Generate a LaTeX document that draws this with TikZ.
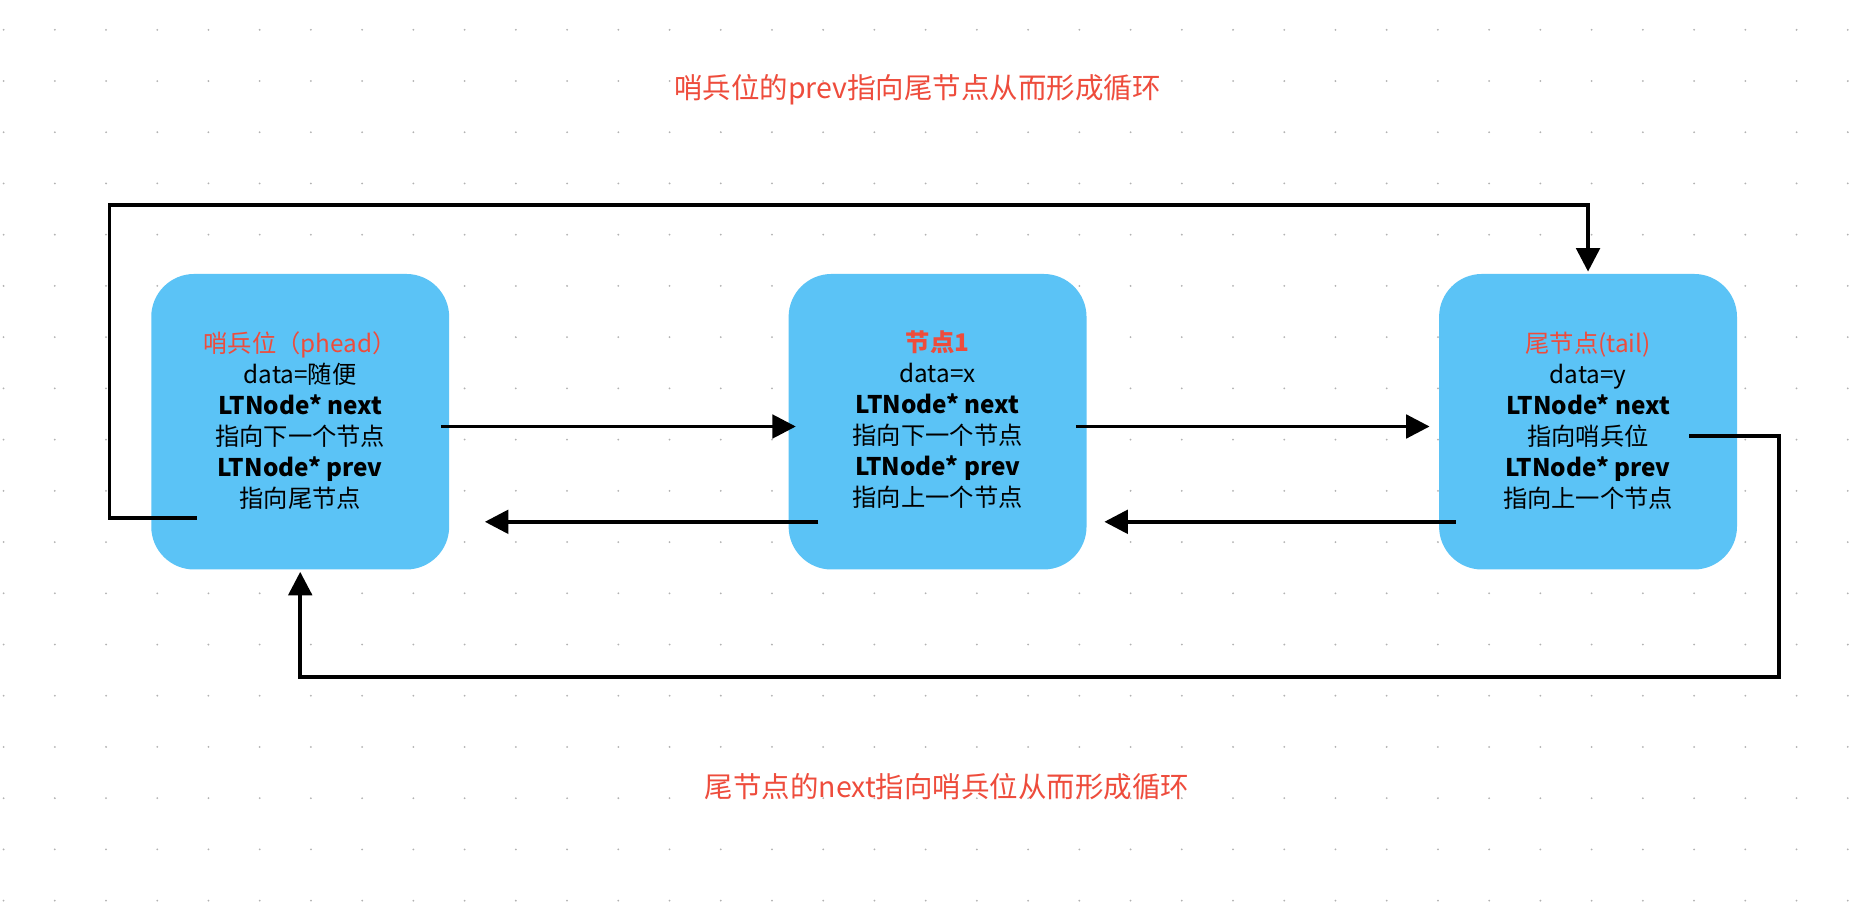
\documentclass[tikz,border=0pt]{standalone}
\usepackage{fontspec}
\setmainfont{Noto Sans CJK SC}
\usetikzlibrary{positioning,arrows.meta}
\definecolor{boxblue}{HTML}{5BC3F6}
\definecolor{labelred}{HTML}{EE4C3C}
\tikzset{
  listbox/.style={fill=boxblue, rounded corners=0.9cm, minimum width=6.25cm, minimum height=6.2cm, inner sep=0pt},
  boxtext/.style={align=center, font=\fontsize{14.5}{18.5}\selectfont},
  looptext/.style={text=labelred, font=\fontsize{17}{20}\selectfont},
  link/.style={line width=2.2pt, -{Triangle[length=14pt,width=14pt]}}
}
\begin{document}
\begin{tikzpicture}[x=0.025cm, y=-0.025cm]
    \useasboundingbox (0,0) rectangle (1568,757);
    \fill[white] (0,0) rectangle (1568,757);
    % dot grid
    \foreach \i in {0,...,36} {
        \foreach \j in {0,...,17} {
            \fill[black!30] (3+43*\i, 25+43*\j) circle (0.6pt);
        }
    }
    % boxes
    \node[listbox] (head) at (252,354) {};
    \node[listbox] (mid) at (787,354) {};
    \node[listbox] (tail) at (1333,354) {};
    \node[boxtext] (head_text) at (252,353) {{\color{labelred}哨兵位（phead）}\\data=随便\\\textbf{LTNode* next}\\指向下一个节点\\\textbf{LTNode* prev}\\指向尾节点};
    \node[boxtext, font=\fontsize{14.5}{18.5}\selectfont] (mid_text) at (787,352) {{\color{labelred}\textbf{节点1}}\\data=x\\\textbf{LTNode* next}\\指向下一个节点\\\textbf{LTNode* prev}\\指向上一个节点};
    \node[boxtext] (tail_text) at (1333,353) {{\color{labelred}尾节点(tail)}\\data=y\\\textbf{LTNode* next}\\指向哨兵位\\\textbf{LTNode* prev}\\指向上一个节点};
    % loop labels
    \node[looptext] (top_label) at (770,75) {哨兵位的prev指向尾节点从而形成循环};
    \node[looptext] (bottom_label) at (795,660) {尾节点的next指向哨兵位从而形成循环};
    % connector ends
    \coordinate (head_next) at (370,358);
    \coordinate (mid_in) at (668,358);
    \coordinate (mid_next) at (903,358);
    \coordinate (tail_in) at (1200,358);
    \coordinate (mid_prev) at (687,438);
    \coordinate (head_in) at (407,438);
    \coordinate (tail_prev) at (1222,438);
    \coordinate (mid_back) at (927,438);
    \coordinate (head_prev) at (165,435);
    \coordinate (tail_top) at (1333,228);
    \coordinate (tail_next) at (1418,366);
    \coordinate (head_bottom) at (252,480);
    % links
    \draw[link] (head_next) -- (mid_in);
    \draw[link] (mid_next) -- (tail_in);
    \draw[link] (mid_prev) -- (head_in);
    \draw[link] (tail_prev) -- (mid_back);
    \draw[link] (head_prev) -- (92,435) -- (92,172) -- (1333,172) -- (tail_top);
    \draw[link] (tail_next) -- (1493,366) -- (1493,568) -- (252,568) -- (head_bottom);
\end{tikzpicture}
\end{document}
